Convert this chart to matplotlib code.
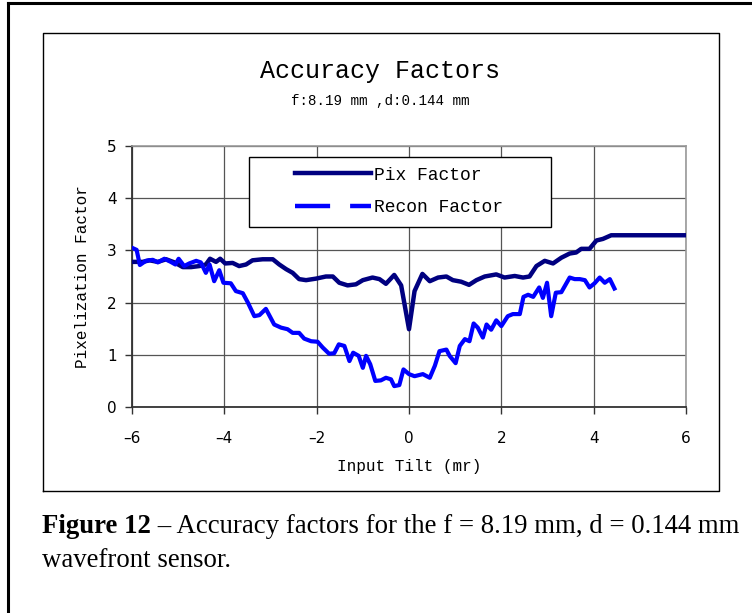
import numpy as np
import matplotlib
matplotlib.use('Agg')

import matplotlib.pyplot as plt
from matplotlib.lines import Line2D
from matplotlib.patches import Rectangle

# Pixelization factor vs. input tilt
pix_tilt = [-6.00, -5.77, -5.62, -5.44, -5.26, -5.08, -4.90, -4.72, -4.54, -4.40,
            -4.31, -4.18, -4.09, -3.98, -3.82, -3.68, -3.53, -3.39, -3.17, -2.95,
            -2.81, -2.66, -2.52, -2.38, -2.23, -2.01, -1.80, -1.65, -1.51, -1.33,
            -1.15, -1.00, -0.79, -0.64, -0.50, -0.32, -0.17, 0.00, 0.12, 0.29,
            0.45, 0.63, 0.81, 0.95, 1.13, 1.30, 1.46, 1.64, 1.89, 2.07,
            2.29, 2.47, 2.61, 2.76, 2.94, 3.12, 3.30, 3.48, 3.62, 3.73,
            3.91, 4.06, 4.20, 4.38, 6.00]
pix_factor = [2.78, 2.78, 2.81, 2.78, 2.83, 2.77, 2.68, 2.68, 2.70, 2.73,
              2.84, 2.78, 2.84, 2.75, 2.76, 2.70, 2.73, 2.81, 2.83, 2.83,
              2.73, 2.64, 2.57, 2.45, 2.43, 2.46, 2.50, 2.50, 2.38, 2.33,
              2.35, 2.43, 2.48, 2.45, 2.36, 2.53, 2.33, 1.49, 2.22, 2.55,
              2.41, 2.48, 2.50, 2.43, 2.40, 2.34, 2.43, 2.50, 2.54, 2.48,
              2.51, 2.48, 2.50, 2.70, 2.80, 2.75, 2.86, 2.94, 2.96, 3.03,
              3.03, 3.19, 3.22, 3.29, 3.29]

# Reconstruction factor vs. input tilt
recon_tilt = [-6.00, -5.90, -5.83, -5.70, -5.55, -5.44, -5.30, -5.16, -5.06, -4.99,
              -4.87, -4.76, -4.61, -4.51, -4.40, -4.32, -4.22, -4.11, -4.02, -3.86,
              -3.75, -3.60, -3.49, -3.35, -3.24, -3.10, -2.92, -2.77, -2.63, -2.52,
              -2.38, -2.27, -2.12, -1.98, -1.87, -1.73, -1.62, -1.52, -1.40, -1.29,
              -1.21, -1.09, -1.00, -0.93, -0.84, -0.73, -0.61, -0.50, -0.39, -0.32,
              -0.21, -0.12, 0.00, 0.12, 0.30, 0.45, 0.56, 0.66, 0.81, 0.88,
              1.01, 1.10, 1.21, 1.31, 1.40, 1.49, 1.60, 1.68, 1.78, 1.89,
              2.00, 2.14, 2.25, 2.40, 2.48, 2.58, 2.69, 2.82, 2.90, 2.99,
              3.08, 3.18, 3.30, 3.48, 3.59, 3.70, 3.81, 3.91, 4.02, 4.13,
              4.24, 4.35, 4.45]
recon_factor = [3.05, 3.01, 2.72, 2.80, 2.82, 2.77, 2.84, 2.78, 2.73, 2.84,
                2.70, 2.75, 2.80, 2.77, 2.57, 2.73, 2.41, 2.62, 2.38, 2.37,
                2.22, 2.18, 2.00, 1.74, 1.76, 1.88, 1.58, 1.52, 1.49, 1.42,
                1.42, 1.31, 1.26, 1.25, 1.14, 1.02, 1.03, 1.20, 1.17, 0.88,
                1.04, 0.98, 0.75, 0.98, 0.82, 0.50, 0.51, 0.56, 0.53, 0.40,
                0.42, 0.72, 0.63, 0.59, 0.63, 0.56, 0.79, 1.07, 1.10, 0.98,
                0.84, 1.17, 1.30, 1.26, 1.60, 1.52, 1.33, 1.58, 1.48, 1.66,
                1.55, 1.74, 1.78, 1.78, 2.11, 2.15, 2.11, 2.29, 2.09, 2.38,
                1.74, 2.19, 2.20, 2.48, 2.45, 2.45, 2.43, 2.29, 2.37, 2.48,
                2.38, 2.45, 2.27]

x_ticks = [-6, -4, -2, 0, 2, 4, 6]
y_ticks = [0, 1, 2, 3, 4, 5]

NAVY = '#000080'
BLUE = '#0000FF'
MONO = 'Liberation Mono'
SERIF = 'Liberation Serif'

W, H = 752, 613
fig = plt.figure(figsize=(W / 100, H / 100), dpi=100)
fig.patch.set_facecolor('white')

# page border (left/top) and chart frame
fig.add_artist(Line2D([8 / W, 8 / W], [0, 1 - 3 / H], color='black', lw=2.2))
fig.add_artist(Line2D([8 / W, 1], [1 - 3 / H, 1 - 3 / H], color='black', lw=2.2))
fx0, fx1 = 43 / W, 719 / W
fy0, fy1 = 1 - 491 / H, 1 - 33 / H
fig.add_artist(Line2D([fx0, fx1, fx1, fx0, fx0], [fy0, fy0, fy1, fy1, fy0],
                      color='black', lw=1.0))

ax = fig.add_axes([132 / W, 1 - 407 / H, 554 / W, 261 / H])
ax.plot(pix_tilt, pix_factor, color=NAVY, lw=3.2, solid_joinstyle='round', zorder=3)
ax.plot(recon_tilt, recon_factor, color=BLUE, lw=3.0, solid_joinstyle='round', zorder=3)

ax.set_xlim(-6, 6)
ax.set_ylim(0, 5)
ax.set_xticks(x_ticks)
ax.set_yticks(y_ticks)
ax.set_xticklabels([str(t).replace('-', '\u2013') for t in x_ticks],
                   fontsize=11, family='DejaVu Sans')
ax.set_yticklabels([str(t) for t in y_ticks], fontsize=11, family='DejaVu Sans')
ax.tick_params(axis='both', direction='out', length=5, width=1.0, color='#333333')
ax.tick_params(axis='x', pad=12)
ax.tick_params(axis='y', pad=6)

ax.grid(True, color='#555555', lw=0.9)
ax.set_axisbelow(True)
for side in ['top', 'right']:
    ax.spines[side].set_color('#999999')
    ax.spines[side].set_linewidth(1.2)
for side in ['left', 'bottom']:
    ax.spines[side].set_color('#333333')
    ax.spines[side].set_linewidth(1.3)

ax.set_xlabel('Input Tilt (mr)', fontsize=11.5, family=MONO, labelpad=10)
ax.set_ylabel('Pixelization Factor', fontsize=11.5, family=MONO, labelpad=12)

# legend: frame drawn separately so the entries sit inset from its left edge
ax.add_patch(Rectangle((0.211, 0.690), 0.545, 0.268, transform=ax.transAxes,
                       facecolor='white', edgecolor='black', lw=1.0, zorder=4))
handles = [Line2D([], [], color=NAVY, lw=3.2),
           Line2D([], [], color=BLUE, lw=3.2, dashes=(7.9, 4.5))]
leg = ax.legend(handles, ['Pix Factor', 'Recon Factor'], loc='center left',
                bbox_to_anchor=(0.294, 0.826), prop={'family': MONO, 'size': 13},
                handlelength=4.2, handletextpad=0.2, labelspacing=0.85,
                borderpad=0, borderaxespad=0, frameon=False)
leg.set_zorder(5)

fig.text(380 / W, 1 - 71 / H, 'Accuracy Factors', ha='center', va='center',
         family=MONO, fontsize=18)
fig.text(380 / W, 1 - 101 / H, 'f:8.19 mm ,d:0.144 mm', ha='center', va='center',
         family=MONO, fontsize=10.2)

# caption under the chart, bold figure number followed by plain text
cap_y = 1 - 533 / H
t1 = fig.text(42 / W, cap_y, 'Figure 12', family=SERIF, fontsize=19.3,
              fontweight='bold', ha='left', va='baseline')
fig.canvas.draw()
bb = t1.get_window_extent(renderer=fig.canvas.get_renderer())
fig.text(bb.x1 / W, cap_y, ' \u2013 Accuracy factors for the f = 8.19 mm, d = 0.144 mm',
         family=SERIF, fontsize=19.3, ha='left', va='baseline')
fig.text(42 / W, 1 - 567 / H, 'wavefront sensor.', family=SERIF, fontsize=19.3,
         ha='left', va='baseline')

fig.savefig('out.png', dpi=100)
